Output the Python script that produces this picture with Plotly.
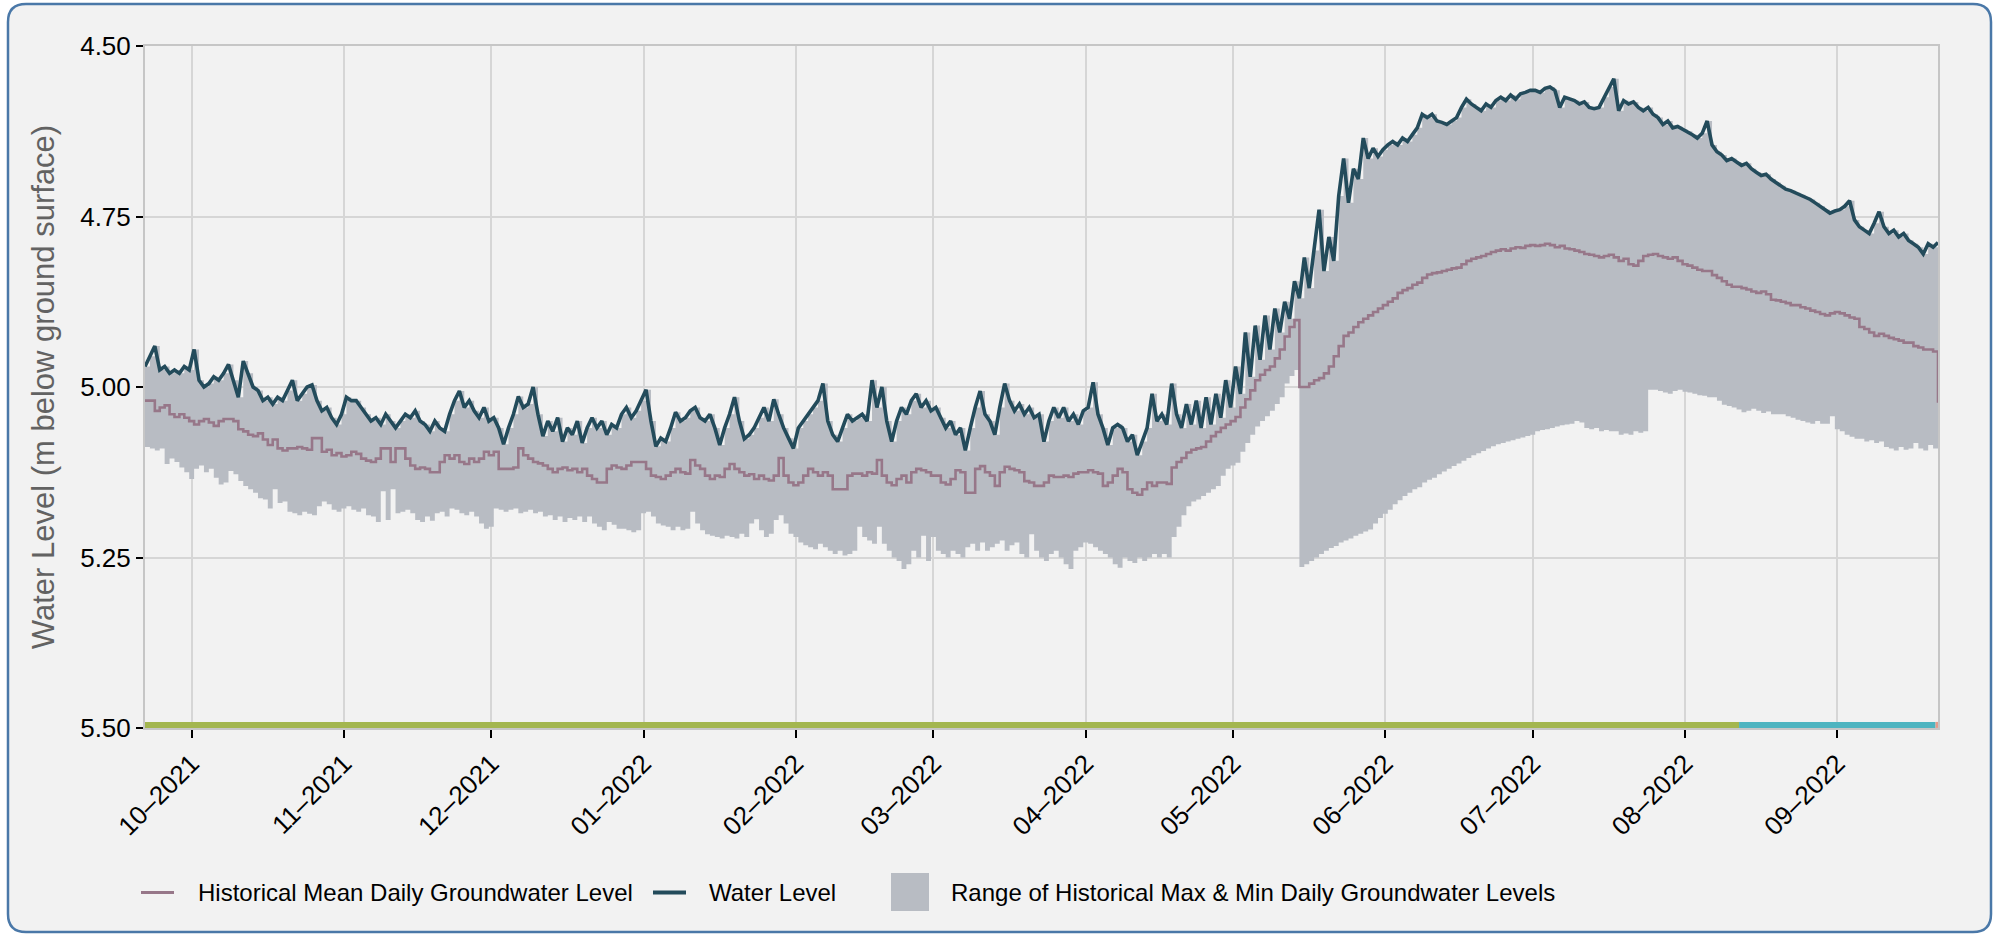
import pandas as pd
import plotly.graph_objects as go

# ---------------- data ----------------
start_date = "2021-09-21 12:00"
end_date = "2022-09-21 12:00"

# daily water level (m below ground surface), Sep-21-2021 .. Sep-21-2022
water_level = [
    # Sep 21-30
    4.970, 4.955, 4.940, 4.975, 4.970, 4.980, 4.975, 4.980, 4.970, 4.975,
    # Oct
    4.945, 4.990, 5.000, 4.995, 4.985, 4.990, 4.980, 4.967, 4.990, 5.015,
    4.962, 4.980, 5.000, 5.005, 5.020, 5.015, 5.025, 5.015, 5.020, 5.005,
    4.990, 5.020, 5.010, 5.000, 4.997, 5.020, 5.035, 5.030, 5.045, 5.055, 5.040,
    # Nov
    5.015, 5.020, 5.020, 5.030, 5.040, 5.050, 5.045, 5.055, 5.040, 5.050,
    5.060, 5.050, 5.040, 5.045, 5.035, 5.050, 5.055, 5.065, 5.050, 5.060,
    5.065, 5.040, 5.020, 5.006, 5.030, 5.020, 5.035, 5.045, 5.030, 5.050,
    # Dec
    5.045, 5.060, 5.084, 5.060, 5.040, 5.014, 5.030, 5.025, 5.000, 5.040,
    5.072, 5.050, 5.065, 5.045, 5.080, 5.060, 5.070, 5.050, 5.082, 5.060,
    5.045, 5.060, 5.050, 5.070, 5.055, 5.060, 5.040, 5.030, 5.045, 5.035, 5.020,
    # Jan
    5.004, 5.050, 5.087, 5.075, 5.080, 5.060, 5.037, 5.050, 5.045, 5.035,
    5.030, 5.045, 5.050, 5.040, 5.060, 5.085, 5.060, 5.040, 5.015, 5.050,
    5.076, 5.070, 5.060, 5.045, 5.030, 5.050, 5.018, 5.040, 5.060, 5.075, 5.090,
    # Feb
    5.060, 5.050, 5.040, 5.030, 5.020, 4.995, 5.050, 5.070, 5.080, 5.060,
    5.040, 5.050, 5.045, 5.040, 5.050, 4.990, 5.030, 5.000, 5.050, 5.080,
    5.050, 5.030, 5.040, 5.020, 5.010, 5.030, 5.020, 5.035,
    # Mar
    5.030, 5.045, 5.060, 5.050, 5.070, 5.060, 5.093, 5.060, 5.030, 5.006,
    5.040, 5.050, 5.070, 5.030, 4.995, 5.020, 5.035, 5.025, 5.040, 5.030,
    5.045, 5.040, 5.080, 5.050, 5.030, 5.045, 5.030, 5.050, 5.040, 5.055, 5.035,
    # Apr
    5.030, 4.993, 5.040, 5.060, 5.085, 5.060, 5.055, 5.060, 5.080, 5.070,
    5.100, 5.080, 5.060, 5.010, 5.050, 5.040, 5.055, 4.995, 5.040, 5.060,
    5.025, 5.055, 5.020, 5.060, 5.015, 5.055, 5.010, 5.045, 4.990, 5.030,
    # May
    4.970, 5.010, 4.920, 4.985, 4.910, 4.960, 4.895, 4.945, 4.885, 4.920,
    4.875, 4.900, 4.845, 4.870, 4.810, 4.855, 4.800, 4.740, 4.830, 4.780,
    4.815, 4.720, 4.665, 4.730, 4.680, 4.695, 4.635, 4.665, 4.650, 4.662, 4.652,
    # Jun
    4.645, 4.640, 4.645, 4.635, 4.640, 4.630, 4.620, 4.600, 4.605, 4.600,
    4.610, 4.612, 4.615, 4.610, 4.605, 4.590, 4.578, 4.585, 4.590, 4.595,
    4.585, 4.590, 4.580, 4.575, 4.580, 4.572, 4.578, 4.570, 4.568, 4.565,
    # Jul
    4.565, 4.568, 4.562, 4.560, 4.565, 4.590, 4.575, 4.578, 4.580, 4.585,
    4.582, 4.590, 4.592, 4.590, 4.575, 4.560, 4.548, 4.595, 4.580, 4.585,
    4.582, 4.590, 4.595, 4.590, 4.600, 4.605, 4.615, 4.610, 4.620, 4.618, 4.622,
    # Aug
    4.625, 4.630, 4.635, 4.628, 4.610, 4.645, 4.655, 4.660, 4.668, 4.665,
    4.670, 4.675, 4.672, 4.680, 4.685, 4.690, 4.688, 4.695, 4.700, 4.705,
    4.710, 4.712, 4.715, 4.718, 4.722, 4.725, 4.730, 4.735, 4.740, 4.745, 4.742,
    # Sep 1-21
    4.740, 4.735, 4.727, 4.755, 4.765, 4.770, 4.775, 4.760, 4.743, 4.765,
    4.775, 4.770, 4.780, 4.775, 4.785, 4.790, 4.795, 4.805, 4.790, 4.795, 4.788,
]

# historical mean daily groundwater level
hist_mean = [
    # Sep 21-30
    5.020, 5.020, 5.035, 5.030, 5.027, 5.040, 5.044, 5.040, 5.045, 5.050,
    # Oct
    5.055, 5.050, 5.047, 5.052, 5.057, 5.050, 5.047, 5.047, 5.050, 5.062,
    5.065, 5.070, 5.072, 5.068, 5.077, 5.085, 5.077, 5.090, 5.093, 5.090,
    5.090, 5.088, 5.090, 5.092, 5.075, 5.075, 5.095, 5.092, 5.100, 5.097, 5.102,
    # Nov
    5.100, 5.095, 5.098, 5.105, 5.108, 5.110, 5.105, 5.090, 5.090, 5.110,
    5.090, 5.090, 5.105, 5.115, 5.120, 5.118, 5.120, 5.125, 5.125, 5.110,
    5.100, 5.105, 5.100, 5.110, 5.113, 5.105, 5.110, 5.105, 5.095, 5.100,
    # Dec
    5.095, 5.120, 5.120, 5.120, 5.118, 5.090, 5.100, 5.105, 5.110, 5.112,
    5.115, 5.120, 5.125, 5.120, 5.118, 5.122, 5.120, 5.125, 5.120, 5.130,
    5.135, 5.140, 5.140, 5.120, 5.115, 5.118, 5.120, 5.115, 5.110, 5.110, 5.110,
    # Jan
    5.120, 5.130, 5.132, 5.135, 5.130, 5.125, 5.120, 5.125, 5.127, 5.107,
    5.115, 5.120, 5.130, 5.135, 5.130, 5.132, 5.120, 5.113, 5.120, 5.125,
    5.130, 5.128, 5.135, 5.130, 5.135, 5.137, 5.130, 5.104, 5.130, 5.140, 5.144,
    # Feb
    5.140, 5.130, 5.120, 5.125, 5.130, 5.125, 5.130, 5.150, 5.150, 5.150,
    5.130, 5.127, 5.127, 5.130, 5.125, 5.127, 5.107, 5.130, 5.140, 5.144,
    5.135, 5.130, 5.140, 5.125, 5.120, 5.122, 5.125, 5.130,
    # Mar
    5.130, 5.140, 5.143, 5.135, 5.122, 5.125, 5.155, 5.155, 5.120, 5.116,
    5.125, 5.130, 5.145, 5.125, 5.117, 5.120, 5.122, 5.125, 5.138, 5.140,
    5.145, 5.145, 5.140, 5.130, 5.132, 5.132, 5.130, 5.132, 5.127, 5.125, 5.125,
    # Apr
    5.122, 5.125, 5.127, 5.145, 5.140, 5.130, 5.120, 5.125, 5.150, 5.155,
    5.158, 5.150, 5.140, 5.145, 5.140, 5.140, 5.142, 5.118, 5.110, 5.104,
    5.096, 5.092, 5.090, 5.088, 5.080, 5.072, 5.066, 5.060, 5.055, 5.050,
    # May
    5.044, 5.030, 5.018, 5.005, 4.990, 4.982, 4.975, 4.970, 4.958, 4.945,
    4.926, 4.912, 4.902, 5.000, 5.000, 4.995, 4.990, 4.987, 4.980, 4.970,
    4.955, 4.940, 4.925, 4.920, 4.912, 4.905, 4.900, 4.895, 4.890, 4.885, 4.880,
    # Jun
    4.875, 4.870, 4.862, 4.858, 4.855, 4.850, 4.847, 4.840, 4.835, 4.833,
    4.832, 4.830, 4.828, 4.826, 4.825, 4.820, 4.815, 4.812, 4.810, 4.808,
    4.805, 4.802, 4.800, 4.798, 4.800, 4.797, 4.795, 4.796, 4.793, 4.792,
    # Jul
    4.793, 4.792, 4.790, 4.792, 4.795, 4.793, 4.797, 4.798, 4.800, 4.802,
    4.805, 4.806, 4.808, 4.810, 4.808, 4.806, 4.810, 4.815, 4.812, 4.820,
    4.822, 4.815, 4.808, 4.806, 4.805, 4.808, 4.810, 4.812, 4.810, 4.815, 4.820,
    # Aug
    4.822, 4.825, 4.828, 4.830, 4.830, 4.836, 4.840, 4.845, 4.850, 4.853,
    4.853, 4.855, 4.857, 4.860, 4.862, 4.860, 4.864, 4.872, 4.873, 4.875,
    4.877, 4.880, 4.880, 4.883, 4.885, 4.888, 4.890, 4.893, 4.895, 4.892, 4.890,
    # Sep 1-21
    4.892, 4.895, 4.898, 4.900, 4.912, 4.915, 4.920, 4.925, 4.922, 4.925,
    4.928, 4.930, 4.932, 4.935, 4.935, 4.940, 4.942, 4.945, 4.945, 4.948, 5.023,
]

# historical minimum daily groundwater level (deepest)
hist_min = [
    # Sep 21-30
    5.088, 5.090, 5.093, 5.090, 5.113, 5.105, 5.110, 5.118, 5.125, 5.135,
    # Oct
    5.120, 5.115, 5.125, 5.120, 5.133, 5.143, 5.140, 5.123, 5.128, 5.138,
    5.145, 5.150, 5.155, 5.163, 5.165, 5.178, 5.150, 5.170, 5.168, 5.183,
    5.185, 5.188, 5.183, 5.186, 5.188, 5.175, 5.168, 5.172, 5.180, 5.183, 5.178,
    # Nov
    5.175, 5.180, 5.183, 5.178, 5.188, 5.190, 5.198, 5.153, 5.195, 5.150,
    5.185, 5.183, 5.180, 5.185, 5.195, 5.198, 5.190, 5.196, 5.185, 5.183,
    5.190, 5.178, 5.180, 5.185, 5.188, 5.183, 5.190, 5.200, 5.208, 5.205,
    # Dec
    5.178, 5.180, 5.183, 5.180, 5.178, 5.185, 5.183, 5.180, 5.185, 5.183,
    5.190, 5.188, 5.195, 5.190, 5.198, 5.192, 5.195, 5.190, 5.198, 5.190,
    5.200, 5.205, 5.210, 5.198, 5.202, 5.208, 5.208, 5.210, 5.213, 5.210, 5.185,
    # Jan
    5.183, 5.190, 5.200, 5.203, 5.205, 5.210, 5.205, 5.210, 5.208, 5.183,
    5.200, 5.210, 5.216, 5.218, 5.220, 5.222, 5.218, 5.220, 5.222, 5.215,
    5.220, 5.200, 5.194, 5.210, 5.220, 5.215, 5.195, 5.188, 5.200, 5.215, 5.220,
    # Feb
    5.228, 5.232, 5.235, 5.238, 5.230, 5.235, 5.240, 5.245, 5.240, 5.247,
    5.245, 5.240, 5.205, 5.220, 5.225, 5.230, 5.205, 5.230, 5.240, 5.250,
    5.255, 5.267, 5.260, 5.240, 5.250, 5.218, 5.255, 5.220,
    # Mar
    5.240, 5.245, 5.250, 5.240, 5.245, 5.250, 5.235, 5.230, 5.240, 5.228,
    5.240, 5.235, 5.230, 5.225, 5.240, 5.232, 5.228, 5.245, 5.250, 5.216,
    5.240, 5.250, 5.255, 5.245, 5.240, 5.250, 5.260, 5.267, 5.240, 5.235, 5.228,
    # Apr
    5.230, 5.235, 5.240, 5.245, 5.250, 5.260, 5.265, 5.250, 5.255, 5.258,
    5.250, 5.255, 5.250, 5.245, 5.250, 5.245, 5.250, 5.220, 5.205, 5.188,
    5.175, 5.168, 5.165, 5.160, 5.155, 5.150, 5.145, 5.130, 5.120, 5.115,
    # May
    5.111, 5.095, 5.082, 5.070, 5.058, 5.050, 5.043, 5.035, 5.025, 5.015,
    4.995, 4.984, 4.975, 5.264, 5.260, 5.255, 5.250, 5.245, 5.240, 5.236,
    5.233, 5.228, 5.225, 5.222, 5.218, 5.215, 5.212, 5.209, 5.200, 5.192, 5.186,
    # Jun
    5.180, 5.172, 5.166, 5.160, 5.155, 5.150, 5.147, 5.140, 5.136, 5.133,
    5.128, 5.124, 5.120, 5.116, 5.112, 5.108, 5.104, 5.100, 5.097, 5.094,
    5.090, 5.087, 5.084, 5.082, 5.080, 5.078, 5.076, 5.074, 5.072, 5.070,
    # Jul
    5.065, 5.063, 5.062, 5.060, 5.058, 5.056, 5.055, 5.054, 5.050, 5.052,
    5.060, 5.062, 5.060, 5.065, 5.063, 5.065, 5.065, 5.070, 5.068, 5.070,
    5.065, 5.067, 5.065, 5.004, 5.004, 5.006, 5.008, 5.010, 5.006, 5.004, 5.007,
    # Aug
    5.008, 5.010, 5.012, 5.013, 5.015, 5.015, 5.020, 5.026, 5.028, 5.030,
    5.033, 5.037, 5.035, 5.032, 5.035, 5.038, 5.036, 5.040, 5.040, 5.040,
    5.043, 5.045, 5.048, 5.050, 5.052, 5.054, 5.050, 5.054, 5.054, 5.043, 5.062,
    # Sep 1-21
    5.065, 5.070, 5.073, 5.076, 5.076, 5.080, 5.078, 5.082, 5.080, 5.088,
    5.090, 5.093, 5.088, 5.092, 5.090, 5.082, 5.090, 5.093, 5.085, 5.090, 5.093,
]

# this year's record levels set the historical daily maximum
hist_max = list(water_level)

# data-grade periods shown as the coloured strip along the bottom
grade_start = ["2021-09-21 12:00", "2022-08-12 00:00", "2022-09-21 00:00"]
grade_end = ["2022-08-12 00:00", "2022-09-21 00:00", "2022-09-21 12:00"]
grade_color = ["#a3b64f", "#4eb4c0", "#e69b8b"]

y_ticks = [4.50, 4.75, 5.00, 5.25, 5.50]

legend_labels = ["Historical Mean Daily Groundwater Level", "Water Level",
                 "Range of Historical Max & Min Daily Groundwater Levels"]

# ---------------- styling ----------------
C_WATER = "#234b5b"
C_MEAN = "#977789"
C_RANGE = "#b8bcc3"
FONT = "Liberation Sans, Arial, Helvetica, sans-serif"

W, H = 1999, 936
ML, MR, MT, MB = 145, 61, 46, 208
PW, PH = W - ML - MR, H - MT - MB


def px(X):
    return (X - ML) / PW


def py(Y):
    return (H - MB - Y) / PH


dates = pd.date_range(start_date, end_date, freq="D")
assert len(dates) == len(water_level) == len(hist_mean) == len(hist_min), (
    len(dates), len(water_level), len(hist_mean), len(hist_min))

fig = go.Figure()

fig.add_trace(go.Scatter(x=dates, y=hist_min, mode="lines",
                         line=dict(width=0, shape="hv", color=C_RANGE),
                         showlegend=False, hoverinfo="skip"))
fig.add_trace(go.Scatter(x=dates, y=hist_max, mode="lines",
                         line=dict(width=0, shape="hv", color=C_RANGE),
                         fill="tonexty", fillcolor=C_RANGE,
                         name=legend_labels[2], showlegend=False))
fig.add_trace(go.Scatter(x=dates, y=hist_mean, mode="lines",
                         line=dict(width=2.6, shape="hv", color=C_MEAN),
                         name=legend_labels[0], showlegend=False))
fig.add_trace(go.Scatter(x=dates, y=water_level, mode="lines",
                         line=dict(width=3.6, color=C_WATER),
                         name=legend_labels[1], showlegend=False))

BAND_Y = 5.4955
for s, e, c in zip(grade_start, grade_end, grade_color):
    fig.add_trace(go.Scatter(x=[s, e], y=[BAND_Y, BAND_Y], mode="lines",
                             line=dict(width=6, color=c),
                             showlegend=False, hoverinfo="skip"))

# ---------------- frame (rounded rectangle) ----------------
X0, Y0, X1, Y1, R = 8, 4, 1991, 932, 18
pts = [("M", [(X0 + R, Y0)]), ("L", [(X1 - R, Y0)]), ("Q", [(X1, Y0), (X1, Y0 + R)]),
       ("L", [(X1, Y1 - R)]), ("Q", [(X1, Y1), (X1 - R, Y1)]), ("L", [(X0 + R, Y1)]),
       ("Q", [(X0, Y1), (X0, Y1 - R)]), ("L", [(X0, Y0 + R)]), ("Q", [(X0, Y0), (X0 + R, Y0)])]
path = " ".join(cmd + " " + " ".join(f"{px(a):.5f},{py(b):.5f}" for a, b in p) for cmd, p in pts) + " Z"

shapes = [dict(type="path", path=path, xref="paper", yref="paper",
               fillcolor="#f2f2f2", line=dict(color="#4a78a8", width=2.5), layer="below")]

# ---------------- custom legend ----------------
LY = 892.5
shapes += [
    dict(type="line", xref="paper", yref="paper", x0=px(141), x1=px(174), y0=py(LY), y1=py(LY),
         line=dict(color=C_MEAN, width=3)),
    dict(type="line", xref="paper", yref="paper", x0=px(653), x1=px(686), y0=py(LY), y1=py(LY),
         line=dict(color=C_WATER, width=4)),
    dict(type="rect", xref="paper", yref="paper", x0=px(891), x1=px(929), y0=py(911), y1=py(873),
         fillcolor=C_RANGE, line=dict(width=0)),
]
annotations = []
for xpos, label in zip([196, 707, 949], legend_labels):
    annotations.append(dict(x=px(xpos), y=py(LY), xref="paper", yref="paper", text=label,
                            showarrow=False, xanchor="left", yanchor="middle",
                            font=dict(family=FONT, size=24, color="#000000")))

fig.update_layout(
    width=W, height=H,
    margin=dict(l=ML, r=MR, t=MT, b=MB, pad=0),
    paper_bgcolor="#ffffff",
    plot_bgcolor="#f2f2f2",
    showlegend=False,
    shapes=shapes,
    annotations=annotations,
    font=dict(family=FONT, color="#000000"),
    xaxis=dict(
        type="date", range=[start_date, end_date],
        tick0="2021-10-01", dtick="M1", tickformat="%m\u2013%Y", tickangle=-45,
        tickfont=dict(family=FONT, size=26, color="#000000"),
        ticks="outside", ticklen=8, tickwidth=2, tickcolor="#000000",
        showgrid=True, gridcolor="#d6d6d6", gridwidth=2,
        showline=True, linecolor="#c6c6c6", linewidth=2, mirror=True,
        zeroline=False,
    ),
    yaxis=dict(
        range=[5.5, 4.5], tickvals=y_ticks, tickformat=".2f",
        tickfont=dict(family=FONT, size=26, color="#000000"),
        ticks="outside", ticklen=7, tickwidth=2, tickcolor="#000000",
        showgrid=True, gridcolor="#d6d6d6", gridwidth=2,
        showline=True, linecolor="#c6c6c6", linewidth=2, mirror=True,
        zeroline=False,
        title=dict(text="Water Level (m below ground surface)",
                   font=dict(family=FONT, size=31, color="#626262"), standoff=16),
    ),
)

fig.write_html("out.html", include_plotlyjs=True,
               config={"displayModeBar": False},
               post_script="document.body.style.margin='0px';document.body.style.overflow='hidden';")
